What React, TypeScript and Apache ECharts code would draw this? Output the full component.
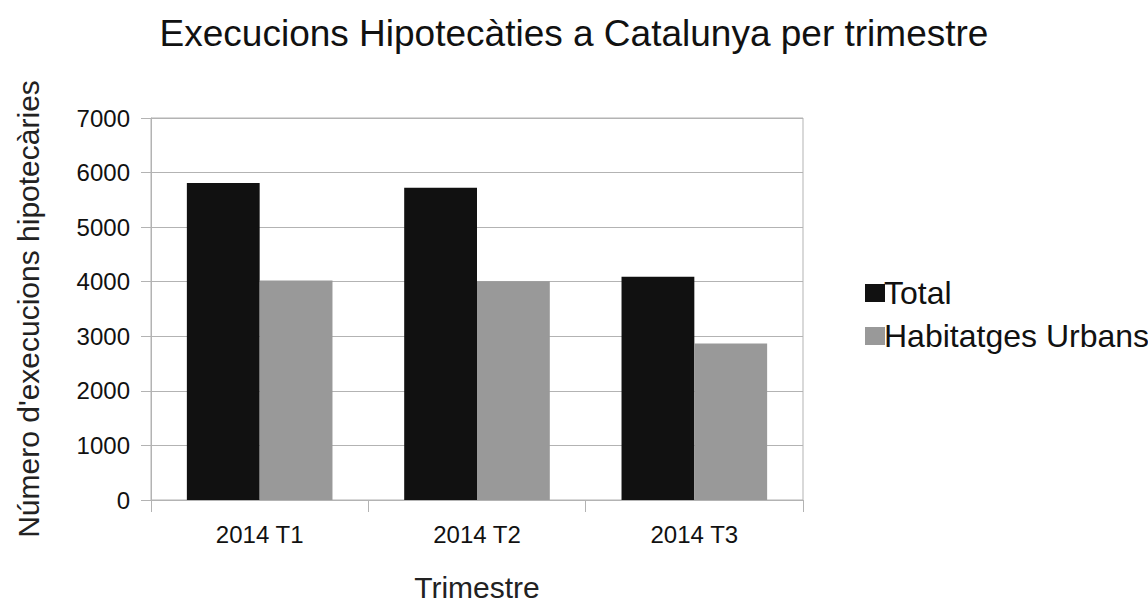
import React, { useEffect, useRef } from "react";
import * as echarts from "echarts";

const categories = ["2014 T1", "2014 T2", "2014 T3"];
const totalValues = [5810, 5720, 4090];
const urbanValues = [4020, 4010, 2870];
const seriesNames = ["Total", "Habitatges Urbans"];

export default function App() {
  const ref = useRef<HTMLDivElement>(null);
  useEffect(() => {
    if (!ref.current) return;
    const chart = echarts.init(ref.current, undefined, { renderer: "svg" });
    const font = "Liberation Sans, Arial, sans-serif";
    chart.setOption({
      animation: false,
      backgroundColor: "#ffffff",
      textStyle: { fontFamily: font },
      title: {
        text: "Execucions Hipotecàties a Catalunya per trimestre",
        left: 569,
        top: 10,
        textAlign: "center",
        textStyle: { fontSize: 37, fontWeight: "normal", color: "#111", fontFamily: font },
      },
      legend: {
        orient: "vertical",
        left: 860,
        top: 272,
        itemWidth: 20,
        itemHeight: 18,
        itemGap: 11,
        icon: "rect",
        textStyle: { fontSize: 32, color: "#111", fontFamily: font, padding: [0, 0, 0, -6] },
        data: seriesNames,
      },
      grid: {
        left: 151,
        width: 652,
        top: 118,
        height: 389,
        show: true,
        borderColor: "#b3b3b3",
        borderWidth: 1,
      },
      xAxis: {
        type: "category",
        data: categories,
        name: "Trimestre",
        nameLocation: "middle",
        nameGap: 72,
        nameTextStyle: { fontSize: 30, color: "#222", fontFamily: font },
        axisLine: { lineStyle: { color: "#b3b3b3" } },
        axisTick: { show: true, length: 12, lineStyle: { color: "#b3b3b3" } },
        axisLabel: { fontSize: 24, color: "#111", margin: 22, fontFamily: font },
      },
      yAxis: {
        type: "value",
        min: 0,
        max: 7000,
        interval: 1000,
        name: "Número d'execucions hipotecàries",
        nameLocation: "middle",
        nameGap: 108,
        nameTextStyle: { fontSize: 30, color: "#222", fontFamily: font },
        axisLine: { show: true, lineStyle: { color: "#b3b3b3" } },
        axisTick: { show: true, length: 10, lineStyle: { color: "#b3b3b3" } },
        axisLabel: {
          fontSize: 24,
          color: "#111",
          margin: 21,
          fontFamily: font,
          formatter: (v: number) => String(v),
        },
        splitLine: { show: true, lineStyle: { color: "#b3b3b3" } },
      },
      series: [
        {
          name: seriesNames[0],
          type: "bar",
          data: totalValues,
          itemStyle: { color: "#111111" },
          barGap: "0%",
          barCategoryGap: "33%",
        },
        {
          name: seriesNames[1],
          type: "bar",
          data: urbanValues,
          itemStyle: { color: "#999999" },
          barGap: "0%",
          barCategoryGap: "33%",
        },
      ],
    });
    return () => chart.dispose();
  }, []);
  return (
    <div
      ref={ref}
      style={{ position: "fixed", left: 0, top: 0, width: "100vw", height: "100vh" }}
    />
  );
}
